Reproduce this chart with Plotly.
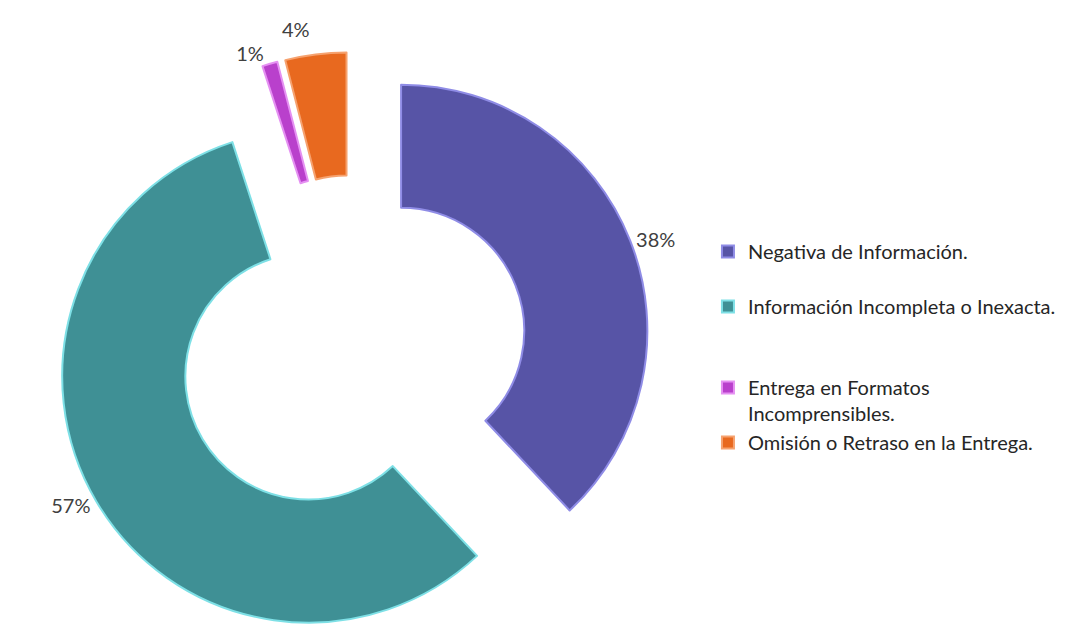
import plotly.graph_objects as go

categories = [
    "Negativa de Información.",
    "Información Incompleta o Inexacta.",
    "Entrega en Formatos<br>Incomprensibles.",
    "Omisión o Retraso en la Entrega.",
]
values = [38, 57, 1, 4]
fill_colors = ["#5754A6", "#3F9095", "#B940CC", "#E8691F"]
edge_colors = ["#8F8CE6", "#7EE0E6", "#E590F2", "#F6A26F"]

# extra blank lines give the wide legend spacing of the original
legend_labels = [
    categories[0] + "<br> ",
    categories[1] + "<br> <br> ",
    categories[2],
    categories[3],
]

W, H = 1067, 640
FONT = "Lato, Open Sans, sans-serif"

fig = go.Figure(
    go.Pie(
        labels=legend_labels,
        values=values,
        sort=False,
        direction="clockwise",
        rotation=0,
        hole=0.5,
        pull=[0.21] * len(values),
        marker=dict(colors=fill_colors, line=dict(color=edge_colors, width=2)),
        texttemplate='<span style="color:#404040;fill-opacity:1">%{percent:.0%}</span>',
        textposition="outside",
        textfont=dict(family=FONT, size=20, color="rgba(64,64,64,0)"),
        hovertemplate="%{label}: %{percent:.0%}<extra></extra>",
        domain=dict(x=[0, 690 / W], y=[0, 596 / H]),
    )
)

fig.update_layout(
    width=W,
    height=H,
    margin=dict(l=0, r=0, t=0, b=0, autoexpand=False),
    paper_bgcolor="white",
    plot_bgcolor="white",
    showlegend=True,
    legend=dict(
        x=0.656,
        y=1 - 224 / H,
        xanchor="left",
        yanchor="top",
        valign="top",
        itemwidth=30,
        traceorder="normal",
        font=dict(family=FONT, size=20, color="#262626"),
    ),
)

fig.write_html("out.html")
